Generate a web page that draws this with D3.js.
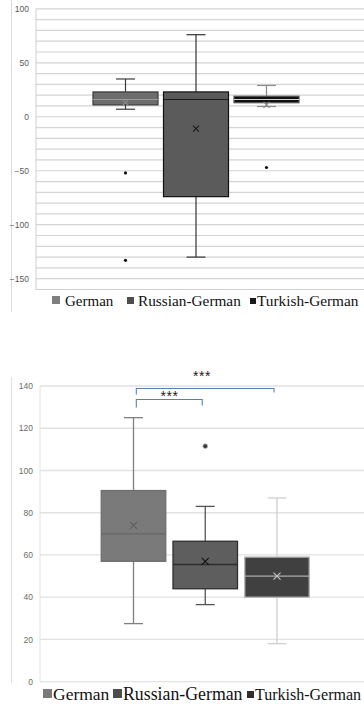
<!DOCTYPE html>
<html>
<head>
<meta charset="utf-8">
<script src="https://cdn.jsdelivr.net/npm/d3@7/dist/d3.min.js"></script>
<style>
  html, body { margin: 0; padding: 0; background: #fff; }
  svg { display: block; }
</style>
</head>
<body>
<svg id="chart" width="364" height="709"></svg>
<script>
// ---- Data ----
const groups = ["German", "Russian-German", "Turkish-German"];

// Upper panel (difference scores)
const topMin     = [7, -130, 9.5];
const topQ1      = [11, -74, 13];
const topMedian  = [16, 16, 16];
const topQ3      = [23, 23, 19];
const topMax     = [35, 76, 29];
const topMean    = [13, -11, 11];
const topOutliers = [[-52, -133], [], [-47]];
const topTicks   = [100, 50, 0, -50, -100, -150];

// Lower panel
const botMin     = [27.5, 36.5, 18];
const botQ1      = [57, 44, 40];
const botMedian  = [70, 55.5, 50];
const botQ3      = [90.5, 66.5, 59];
const botMax     = [125, 83, 87];
const botMean    = [74, 57, 50];
const botOutliers = [[], [111.5], []];
const botTicks   = [0, 20, 40, 60, 80, 100, 120, 140];

// Significance annotations: [from group, to group, label]
const sigPairs = [["German", "Russian-German", "***"], ["German", "Turkish-German", "***"]];

// ---- Styles per group ----
const topStyle = [
  { fill: "#6d6d6d", stroke: "#3a3a3a", median: "#9a9a9a", whisker: "#3a3a3a", mean: "#8a8a8a", legend: "#7f7f7f" },
  { fill: "#5b5b5b", stroke: "#111111", median: "#1a1a1a", whisker: "#333333", mean: "#1a1a1a", legend: "#4d4d4d" },
  { fill: "#111111", stroke: "#555555", median: "#d0d0d0", whisker: "#8a8a8a", mean: "#8a8a8a", legend: "#1a1a1a" }
];
const botStyle = [
  { fill: "#7a7a7a", stroke: "#6e6e6e", median: "#666666", whisker: "#808080", mean: "#5e5e5e", legend: "#7a7a7a" },
  { fill: "#5e5e5e", stroke: "#2e2e2e", median: "#2e2e2e", whisker: "#555555", mean: "#111111", legend: "#4d4d4d" },
  { fill: "#404040", stroke: "#b5b5b5", median: "#aaaaaa", whisker: "#d0d0d0", mean: "#c8c8c8", legend: "#2e2e2e" }
];

const svg = d3.select("#chart");
const axisFont = "'Liberation Sans', Arial, sans-serif";
const legendFont = "'Liberation Serif', 'Times New Roman', serif";

function drawX(g, cx, cy, s, color, w) {
  g.append("path")
    .attr("d", `M${cx - s},${cy - s}L${cx + s},${cy + s}M${cx - s},${cy + s}L${cx + s},${cy - s}`)
    .attr("stroke", color).attr("stroke-width", w).attr("fill", "none");
}

function drawBoxes(g, x, y, stats, style, opt) {
  groups.forEach((name, i) => {
    const cx = x(name);
    const bw = opt.boxWidth, cw = opt.capWidth;
    const st = style[i];
    // whiskers
    g.append("line").attr("x1", cx).attr("x2", cx)
      .attr("y1", y(stats.max[i])).attr("y2", y(stats.q3[i]))
      .attr("stroke", st.whisker).attr("stroke-width", opt.whiskerW);
    g.append("line").attr("x1", cx).attr("x2", cx)
      .attr("y1", y(stats.q1[i])).attr("y2", y(stats.min[i]))
      .attr("stroke", st.whisker).attr("stroke-width", opt.whiskerW);
    g.append("line").attr("x1", cx - cw / 2).attr("x2", cx + cw / 2)
      .attr("y1", y(stats.max[i])).attr("y2", y(stats.max[i]))
      .attr("stroke", st.whisker).attr("stroke-width", opt.whiskerW);
    g.append("line").attr("x1", cx - cw / 2).attr("x2", cx + cw / 2)
      .attr("y1", y(stats.min[i])).attr("y2", y(stats.min[i]))
      .attr("stroke", st.whisker).attr("stroke-width", opt.whiskerW);
    // box
    g.append("rect")
      .attr("x", cx - bw / 2).attr("width", bw)
      .attr("y", y(stats.q3[i])).attr("height", y(stats.q1[i]) - y(stats.q3[i]))
      .attr("fill", st.fill).attr("stroke", st.stroke).attr("stroke-width", opt.boxStrokeW);
    // median
    g.append("line").attr("x1", cx - bw / 2).attr("x2", cx + bw / 2)
      .attr("y1", y(stats.median[i])).attr("y2", y(stats.median[i]))
      .attr("stroke", st.median).attr("stroke-width", opt.medianW);
    // mean marker
    drawX(g, cx, y(stats.mean[i]), opt.meanSize, st.mean, 1.1);
    // outliers
    stats.outliers[i].forEach(v => {
      g.append("circle").attr("cx", cx).attr("cy", y(v)).attr("r", opt.outlierR)
        .attr("fill", opt.outlierFill).attr("stroke", opt.outlierStroke).attr("stroke-width", 0.8);
    });
  });
}

function drawLegend(g, items) {
  items.forEach(it => {
    g.append("rect").attr("x", it.sx).attr("y", it.sy).attr("width", it.ss).attr("height", it.ss)
      .attr("fill", it.color);
    g.append("text").attr("x", it.tx).attr("y", it.ty)
      .attr("font-family", legendFont).attr("font-size", it.fs).attr("fill", "#111")
      .text(it.label);
  });
}

// ================= Upper panel =================
{
  const g = svg.append("g");
  const left = 36, right = 364;
  const y = d3.scaleLinear().domain([-160, 100]).range([289.5, 8.8]);
  const x = d3.scalePoint().domain(groups).range([125.5, 266.5]);

  // outer frame line
  g.append("line").attr("x1", 11.5).attr("x2", 11.5).attr("y1", 0).attr("y2", 312)
    .attr("stroke", "#d9d9d9").attr("stroke-width", 1);

  // gridlines every 10
  const grid = d3.range(-150, 101, 10);
  g.selectAll("line.grid").data(grid).enter().append("line")
    .attr("class", "grid")
    .attr("x1", left).attr("x2", right)
    .attr("y1", d => y(d)).attr("y2", d => y(d))
    .attr("stroke", "#d4d4d4").attr("stroke-width", 1.2);

  // plot border (left and bottom)
  g.append("line").attr("x1", left).attr("x2", left).attr("y1", y(100)).attr("y2", y(-160))
    .attr("stroke", "#cfcfcf").attr("stroke-width", 1);
  g.append("line").attr("x1", left).attr("x2", right).attr("y1", y(-160)).attr("y2", y(-160))
    .attr("stroke", "#cfcfcf").attr("stroke-width", 1);

  // y axis labels
  const axis = d3.axisLeft(y).tickValues(topTicks).tickSize(0).tickPadding(0);
  const ag = g.append("g").attr("transform", `translate(${29},0)`).call(axis);
  ag.select(".domain").remove();
  ag.selectAll("text").attr("font-family", axisFont).attr("font-size", 8.5).attr("fill", "#595959");

  drawBoxes(g, x, y,
    { min: topMin, q1: topQ1, median: topMedian, q3: topQ3, max: topMax, mean: topMean, outliers: topOutliers },
    topStyle,
    { boxWidth: 65, capWidth: 19, whiskerW: 1.2, boxStrokeW: 1.2, medianW: 1.2, meanSize: 3,
      outlierR: 1.6, outlierFill: "#111", outlierStroke: "none" });

  drawLegend(g, [
    { sx: 52, sy: 296, ss: 8, color: topStyle[0].legend, tx: 65, ty: 305.5, fs: 15, label: "German" },
    { sx: 127, sy: 297, ss: 7, color: topStyle[1].legend, tx: 138, ty: 305.5, fs: 15.3, label: "Russian-German" },
    { sx: 250, sy: 298, ss: 6, color: topStyle[2].legend, tx: 257, ty: 305.5, fs: 15.3, label: "Turkish-German" }
  ]);
}

// ================= Lower panel =================
{
  const g = svg.append("g");
  const left = 40, right = 364;
  const y = d3.scaleLinear().domain([0, 140]).range([681.7, 386]);
  const x = d3.scalePoint().domain(groups).range([133.5, 277]);

  // outer frame line
  g.append("line").attr("x1", 11.5).attr("x2", 11.5).attr("y1", 377).attr("y2", 683)
    .attr("stroke", "#e0e0e0").attr("stroke-width", 1);

  // gridlines
  g.selectAll("line.grid").data(botTicks).enter().append("line")
    .attr("class", "grid")
    .attr("x1", left).attr("x2", right)
    .attr("y1", d => y(d)).attr("y2", d => y(d))
    .attr("stroke", "#e2e2e2").attr("stroke-width", 1.3);
  g.append("line").attr("x1", left).attr("x2", left).attr("y1", y(140)).attr("y2", y(0))
    .attr("stroke", "#e2e2e2").attr("stroke-width", 1);

  const axis = d3.axisLeft(y).tickValues(botTicks).tickSize(0).tickPadding(0);
  const ag = g.append("g").attr("transform", `translate(${33},0)`).call(axis);
  ag.select(".domain").remove();
  ag.selectAll("text").attr("font-family", axisFont).attr("font-size", 8.5).attr("fill", "#6b6b6b");

  drawBoxes(g, x, y,
    { min: botMin, q1: botQ1, median: botMedian, q3: botQ3, max: botMax, mean: botMean, outliers: botOutliers },
    botStyle,
    { boxWidth: 64.5, capWidth: 19, whiskerW: 1.3, boxStrokeW: 1.3, medianW: 1.3, meanSize: 3.5,
      outlierR: 2.4, outlierFill: "#3a3a3a", outlierStroke: "#bbbbbb" });

  // significance brackets
  const bracketColor = "#5b7fb5";
  const levels = [
    { y: 399.5, drop: 7, pair: sigPairs[0] },
    { y: 388.5, drop: 5, pair: sigPairs[1] }
  ];
  levels.forEach(l => {
    const x1 = x(l.pair[0]) + 2.8, x2 = x(l.pair[1]) - 3;
    g.append("path")
      .attr("d", `M${x1},${l.y + l.drop + 1}V${l.y}H${x2}V${l.y + l.drop - 1}`)
      .attr("fill", "none").attr("stroke", bracketColor).attr("stroke-width", 1.1);
  });
  g.append("text").attr("x", 169.5).attr("y", 401).attr("text-anchor", "middle")
    .attr("font-family", axisFont).attr("font-size", 14).attr("letter-spacing", 0.5)
    .attr("fill", "#1a1a1a").text(sigPairs[0][2]);
  g.append("text").attr("x", 202).attr("y", 381).attr("text-anchor", "middle")
    .attr("font-family", axisFont).attr("font-size", 14).attr("letter-spacing", 0.5)
    .attr("fill", "#1a1a1a").text(sigPairs[1][2]);

  drawLegend(g, [
    { sx: 43, sy: 689, ss: 9, color: botStyle[0].legend, tx: 53, ty: 700, fs: 17.5, label: "German" },
    { sx: 113, sy: 689, ss: 9, color: botStyle[1].legend, tx: 123, ty: 700, fs: 17.8, label: "Russian-German" },
    { sx: 247, sy: 691, ss: 7, color: botStyle[2].legend, tx: 255, ty: 700, fs: 16, label: "Turkish-German" }
  ]);
}
</script>
</body>
</html>
